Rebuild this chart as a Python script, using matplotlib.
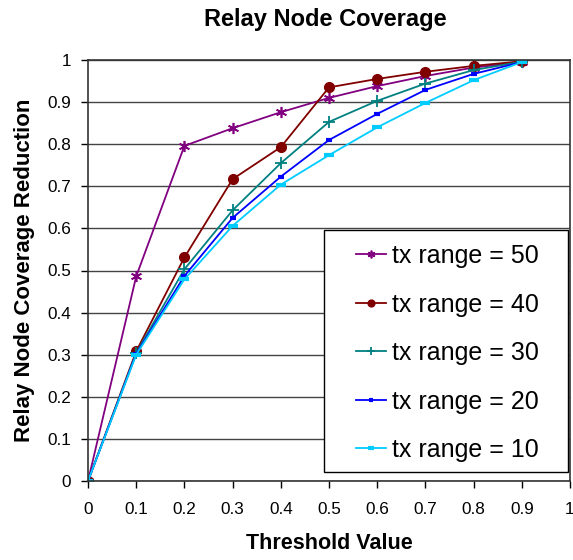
import numpy as np
import matplotlib.pyplot as plt
from matplotlib.patches import Rectangle

plt.rcParams['font.family'] = ['Liberation Sans', 'DejaVu Sans']

threshold = [0, 0.1, 0.2, 0.3, 0.4, 0.5, 0.6, 0.7, 0.8, 0.9]
tx50 = [0, 0.486, 0.796, 0.838, 0.876, 0.910, 0.938, 0.962, 0.982, 0.995]
tx40 = [0, 0.308, 0.531, 0.717, 0.793, 0.935, 0.955, 0.972, 0.986, 0.997]
tx30 = [0, 0.304, 0.503, 0.643, 0.755, 0.853, 0.903, 0.944, 0.976, 0.996]
tx20 = [0, 0.302, 0.487, 0.625, 0.723, 0.810, 0.872, 0.929, 0.967, 0.995]
tx10 = [0, 0.300, 0.479, 0.606, 0.704, 0.774, 0.840, 0.898, 0.952, 0.995]
labels = ['tx range = 50', 'tx range = 40', 'tx range = 30',
          'tx range = 20', 'tx range = 10']

fig = plt.figure(figsize=(5.73, 5.6), dpi=100)
ax = fig.add_axes([88/573, 1 - 481/560, 482/573, 421/560])

ax.plot(threshold, tx50, color='#800080', lw=1.3, marker=(6, 2, 0), ms=8, mew=1.2, label=labels[0])
ax.plot(threshold, tx40, color='#800000', lw=1.3, marker='o', ms=7, label=labels[1])
ax.plot(threshold, tx30, color='#008080', lw=1.3, marker='+', ms=9, mew=1.3, label=labels[2])
ax.plot(threshold, tx20, color='#0000FF', lw=1.3, marker='_', ms=5, mew=3, label=labels[3])
ax.plot(threshold, tx10, color='#00CCFF', lw=1.3, marker='_', ms=7, mew=3, label=labels[4])

ticks = ['0', '0.1', '0.2', '0.3', '0.4', '0.5', '0.6', '0.7', '0.8', '0.9', '1']
ax.set_xlim(0, 1)
ax.set_ylim(0, 1)
ax.set_xticks(np.arange(0, 1.01, 0.1))
ax.set_xticklabels(ticks)
ax.set_yticks(np.arange(0, 1.01, 0.1))
ax.set_yticklabels(ticks)
ax.tick_params(direction='out', length=5, labelsize=12.3, width=1)
ax.tick_params(axis='x', pad=10)
ax.tick_params(axis='y', pad=7)
ax.yaxis.grid(True, color='#444444', lw=1)
ax.set_axisbelow(True)
for s in ax.spines.values():
    s.set_linewidth(1.2)
    s.set_color('#333333')

ax.set_xlabel('Threshold Value', fontsize=15.5, fontweight='bold')
ax.xaxis.set_label_coords(0.5, -0.1235)
ax.set_ylabel('Relay Node Coverage Reduction', fontsize=16, fontweight='bold')
ax.yaxis.set_label_coords(-0.110, 0.5)
fig.text(0.5 * (198 + 453) / 573, 1 - 26/560, 'Relay Node Coverage', fontsize=17,
         fontweight='bold', ha='center', va='baseline')

# legend box drawn separately so the padding matches the original
box = Rectangle((0.4896, 0.0214), 0.5063, 0.5748, transform=ax.transAxes,
                facecolor='white', edgecolor='black', lw=1.0, zorder=5)
ax.add_patch(box)
leg = ax.legend(loc='center', bbox_to_anchor=(0.746, 0.304), fontsize=18, frameon=False,
                handlelength=1.2, handletextpad=0.25, labelspacing=0.98, borderpad=0,
                markerscale=0.7)
leg.set_zorder(6)

fig.savefig('out.png', dpi=100)
